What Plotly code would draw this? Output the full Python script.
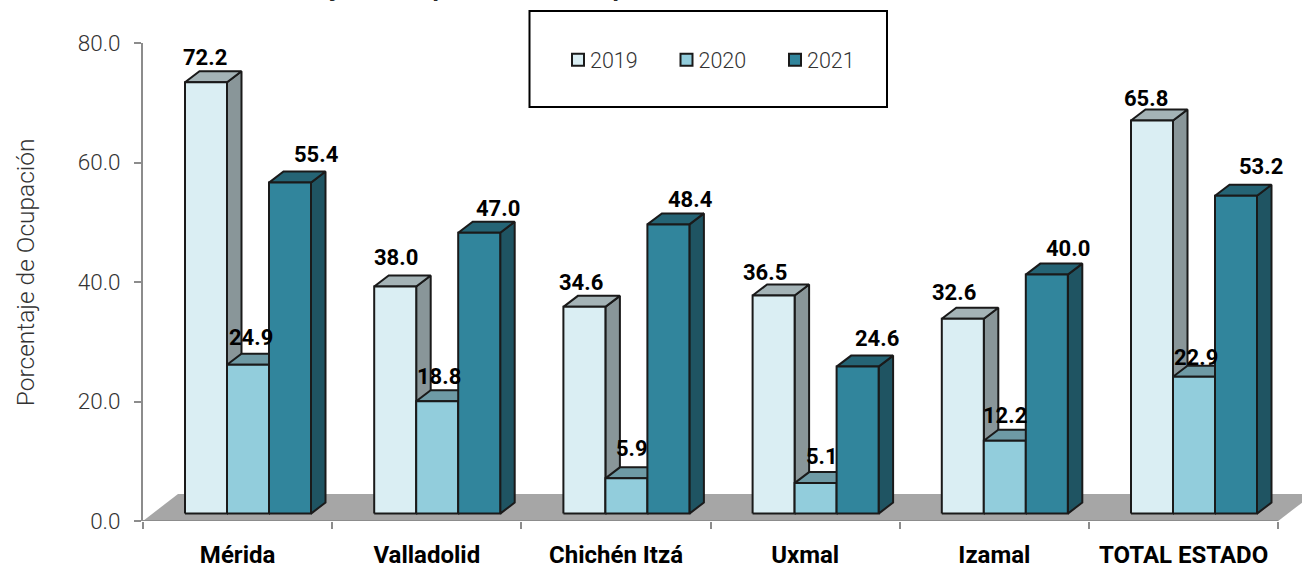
import plotly.graph_objects as go

categories = ["Mérida", "Valladolid", "Chichén Itzá", "Uxmal", "Izamal", "TOTAL ESTADO"]
years = ["2019", "2020", "2021"]
v2019 = [72.2, 38.0, 34.6, 36.5, 32.6, 65.8]
v2020 = [24.9, 18.8, 5.9, 5.1, 12.2, 22.9]
v2021 = [55.4, 47.0, 48.4, 24.6, 40.0, 53.2]
yticks = [0, 20, 40, 60, 80]

series = [v2019, v2020, v2021]
front = ["#DAEEF3", "#92CDDC", "#31859C"]
top = ["#A4B3B6", "#6E9AA5", "#256475"]
side = ["#899699", "#5C8189", "#1F5462"]

# plot frame in pixels
L, R, T, B = 143, 1302, 43, 520.7
cat_px = 189.2
val_px = 5.97
x_max = (R - L) / cat_px
bw = 42 / cat_px
start = 42 / cat_px
base = 7.4 / val_px
ddx = 14.5 / cat_px
ddy = 11 / val_px

# label offsets in pixels relative to the bar's top centre (right, up)
lab_dx = [[-1, 1, -3, -9, -9, -6], [3, 2, 6, 6, 0, 2], [26, 19, 22, 19, 21, 25]]
lab_up = [[25, 29, 24, 23, 26, 22], [27, 25, 30, 27, 25, 19], [28, 24, 25, 28, 26, 29]]

fig = go.Figure()

# floor
floor_dx = 35 / cat_px
floor_dy = 27 / val_px
fig.add_trace(go.Scatter(
    x=[0, 6, 6 + floor_dx, floor_dx, 0], y=[0, 0, floor_dy, floor_dy, 0],
    mode="lines", fill="toself", fillcolor="#A6A6A6", line=dict(width=0),
    hoverinfo="skip", showlegend=False, cliponaxis=False))
fig.add_trace(go.Scatter(
    x=[0, 6], y=[0, 0], mode="lines", line=dict(color="#8C8C8C", width=2),
    hoverinfo="skip", showlegend=False, cliponaxis=False))


def poly(faces):
    xs, ys = [], []
    for f in faces:
        xs += [p[0] for p in f] + [None]
        ys += [p[1] for p in f] + [None]
    return xs, ys


for s, vals in enumerate(series):
    sides, tops, fronts = [], [], []
    for c, v in enumerate(vals):
        x0 = c + start + s * bw
        x1 = x0 + bw
        y0 = base
        y1 = base + v
        fronts.append([(x0, y0), (x1, y0), (x1, y1), (x0, y1), (x0, y0)])
        tops.append([(x0, y1), (x1, y1), (x1 + ddx, y1 + ddy), (x0 + ddx, y1 + ddy), (x0, y1)])
        sides.append([(x1, y0), (x1 + ddx, y0 + ddy), (x1 + ddx, y1 + ddy), (x1, y1), (x1, y0)])
    for faces, col in ((sides, side[s]), (tops, top[s]), (fronts, front[s])):
        xs, ys = poly(faces)
        fig.add_trace(go.Scatter(
            x=xs, y=ys, mode="lines", fill="toself", fillcolor=col,
            line=dict(color="#1A1A1A", width=2), hoverinfo="skip",
            showlegend=False, cliponaxis=False))

# legend entries
for s, name in enumerate(years):
    fig.add_trace(go.Scatter(
        x=[None], y=[None], mode="markers", name=name,
        marker=dict(symbol="square", size=12, color=front[s],
                    line=dict(color="#1A1A1A", width=2))))

annotations = []
for s, vals in enumerate(series):
    for c, v in enumerate(vals):
        annotations.append(dict(
            x=c + start + (s + 0.5) * bw, y=base + v, xref="x", yref="y",
            text=f"{v:.1f}", showarrow=False, xanchor="center", yanchor="middle",
            xshift=lab_dx[s][c], yshift=lab_up[s][c],
            font=dict(family="Roboto", size=22, weight=700, color="#000000")))

annotations.append(dict(
    x=(830 - L) / (R - L), y=1, xref="paper", yref="paper", yshift=39, showarrow=False,
    xanchor="right", yanchor="bottom",
    text="Porcentaje de ocupación hotelera por centro turístico",
    font=dict(family="Roboto", size=25, weight=700, color="#262626")))
annotations.append(dict(
    x=(1143 - L) / (R - L), y=1, xref="paper", yref="paper", yshift=35, showarrow=False,
    xanchor="right", yanchor="bottom", text="NOVIEMBRE DE 2021",
    font=dict(family="Roboto", size=25, weight=700, color="#7F7F7F")))
annotations.append(dict(
    x=(25 - L) / (R - L), y=(B - 272) / (B - T), xref="paper", yref="paper", showarrow=False,
    xanchor="center", yanchor="middle", textangle=-90, text="Porcentaje de Ocupación",
    font=dict(family="Roboto", size=24.5, weight=300, color="#333333")))

fig.update_layout(
    width=1302, height=564, autosize=False,
    margin=dict(l=L, r=1302 - R, t=T, b=564 - B, pad=0),
    paper_bgcolor="white", plot_bgcolor="white",
    font=dict(family="Roboto", color="#404040"),
    xaxis=dict(range=[0, x_max], showgrid=False, zeroline=False, showline=False, automargin=False,
               tickmode="array", tickvals=[c + 0.5 for c in range(6)], ticktext=categories,
               ticks="", ticklabelstandoff=17,
               tickfont=dict(family="Roboto", size=24, weight=700, color="#000000"),
               minor=dict(tickmode="array", tickvals=list(range(7)), ticks="outside",
                          ticklen=7, tickcolor="#8C8C8C", tickwidth=2, showgrid=False)),
    yaxis=dict(range=[0, 80], showgrid=False, zeroline=False, showline=True, automargin=False,
               linecolor="#8C8C8C", linewidth=2, tickmode="array", tickvals=yticks,
               ticktext=[f"{t:.1f}" for t in yticks], ticks="outside", ticklen=7,
               tickcolor="#8C8C8C", tickwidth=2, ticklabelstandoff=9,
               tickfont=dict(family="Roboto", size=22.5, weight=300, color="#333333")),
    legend=dict(orientation="h", x=(558 - L) / (R - L), xanchor="left", y=0.965, yanchor="middle",
                bgcolor="rgba(0,0,0,0)", borderwidth=0, itemclick=False, itemdoubleclick=False,
                entrywidth=63.5, entrywidthmode="pixels",
                font=dict(family="Roboto", size=21.5, weight=300, color="#333333")),
    shapes=[dict(type="rect", xref="paper", yref="paper", layer="below",
                 x0=(529.5 - L) / (R - L), x1=(887 - L) / (R - L),
                 y0=(B - 107) / (B - T), y1=(B - 11) / (B - T),
                 line=dict(color="#000000", width=2), fillcolor="white")],
    annotations=annotations,
)

fig.write_html("out.html", config={"displayModeBar": False},
               post_script="document.body.style.margin='0';"
                           "document.querySelectorAll('.legendtext').forEach(function(t){t.setAttribute('x','32');});")
